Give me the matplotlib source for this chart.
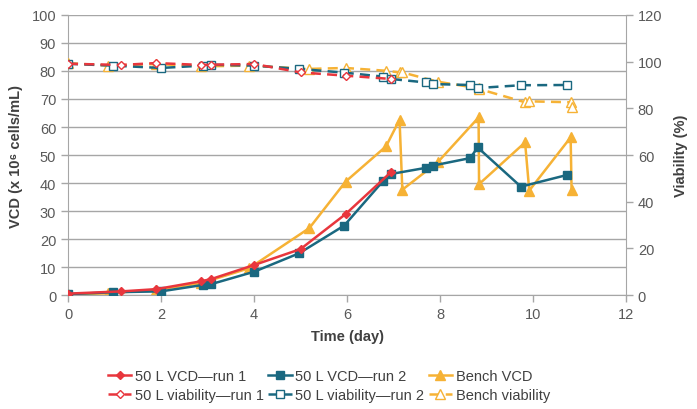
"""VCD and viability vs time, 50 L runs vs bench"""

import matplotlib
matplotlib.use("Agg")
import matplotlib.pyplot as plt

plt.rcParams['font.family'] = ['Liberation Sans', 'DejaVu Sans']

# 50 L run 1
run1_day = [0, 1.15, 1.9, 2.86, 3.08, 4.0, 5.0, 5.97, 6.94]
run1_vcd = [0.5, 1.3, 2.1, 4.9, 5.7, 10.7, 16.4, 28.9, 43.8]
run1_via = [99.1, 98.6, 99.4, 98.6, 98.7, 99.0, 95.4, 94.0, 92.6]

# 50 L run 2
run2_day = [0, 0.97, 2.0, 2.9, 3.08, 4.0, 4.97, 5.94, 6.77, 6.94, 7.69, 7.84, 8.65, 8.81, 9.74, 10.74]
run2_vcd = [0.3, 1.0, 1.3, 3.6, 3.9, 8.3, 14.9, 24.8, 40.6, 43.2, 45.4, 46.2, 48.9, 52.7, 38.7, 42.9]
run2_via = [99.1, 98.3, 97.3, 98.3, 98.7, 98.3, 96.9, 95.3, 93.6, 92.6, 91.1, 90.4, 90.0, 88.7, 89.9, 90.0]

# bench
bench_day = [0, 0.86, 1.9, 2.86, 3.9, 5.19, 5.97, 6.84, 7.13, 7.19, 7.95, 8.83, 8.84, 9.83, 9.92, 10.81, 10.83]
bench_vcd = [0.2, 0.6, 1.9, 4.2, 9.6, 23.9, 40.5, 53.1, 62.6, 37.6, 47.4, 63.4, 39.6, 54.5, 37.3, 56.3, 37.6]
bench_via = [99.4, 98.3, 99.0, 98.0, 98.3, 96.9, 97.3, 96.1, 95.4, 95.4, 91.4, 88.6, 88.3, 82.6, 83.0, 82.6, 80.7]

red = '#E8363D'
teal = '#1A6880'
orange = '#F6B235'
txt = '#595959'

fig = plt.figure(figsize=(6.97, 4.10), dpi=100)
ax = fig.add_axes([0.0976, 0.278, 0.8005, 0.683])
ax2 = ax.twinx()

# VCD lines (left axis)
h1, = ax.plot(run1_day, run1_vcd, color=red, lw=1.8, marker='D', ms=4,
              label='50 L VCD\u2014run 1', zorder=4)
h3, = ax.plot(run2_day, run2_vcd, color=teal, lw=1.8, marker='s', ms=6,
              label='50 L VCD\u2014run 2', zorder=3)
h5, = ax.plot(bench_day, bench_vcd, color=orange, lw=1.8, marker='^', ms=6.5,
              label='Bench VCD', zorder=2)

# viability lines (right axis)
h2, = ax2.plot(run1_day, run1_via, color=red, lw=1.8, ls=(0, (4, 2.5)), marker='D', ms=4,
               mfc='white', mec=red, label='50 L viability\u2014run 1', zorder=4)
h4, = ax2.plot(run2_day, run2_via, color=teal, lw=1.8, ls=(0, (4, 2.5)), marker='s', ms=6,
               mfc='white', mec=teal, label='50 L viability\u2014run 2', zorder=3)
h6, = ax2.plot(bench_day, bench_via, color=orange, lw=1.8, ls=(0, (4, 2.5)), marker='^', ms=6.5,
               mfc='white', mec=orange, label='Bench viability', zorder=2)

ax.set_xlim(0, 12)
ax.set_ylim(0, 100)
ax2.set_ylim(0, 120)
ax.set_xticks(range(0, 13, 2))
ax.set_yticks(range(0, 101, 10))
ax2.set_yticks(range(0, 121, 20))

ax.yaxis.grid(True, color='#A6A6A6', lw=1)
ax.set_axisbelow(True)
for a in (ax, ax2):
    for s in a.spines.values():
        s.set_visible(False)
ax.spines['left'].set_visible(True)
ax.spines['bottom'].set_visible(True)
ax2.spines['right'].set_visible(True)
for s in (ax.spines['left'], ax.spines['bottom'], ax2.spines['right']):
    s.set_color('#A6A6A6')

ax.tick_params(axis='x', colors='#A6A6A6', labelcolor=txt, labelsize=10.5, length=5, width=1)
ax.tick_params(axis='y', colors='#A6A6A6', labelcolor=txt, labelsize=10.5, length=5, width=1)
ax2.tick_params(axis='y', colors='#A6A6A6', labelcolor=txt, labelsize=10.5, length=5, width=1)

ax.set_xlabel('Time (day)', fontsize=10.5, fontweight='bold', color='#404040', labelpad=6)
ax.set_ylabel('VCD (x 10\u2076 cells/mL)', fontsize=10.5, fontweight='bold', color='#404040', labelpad=6)
ax2.set_ylabel('Viability (%)', fontsize=10.5, fontweight='bold', color='#404040', labelpad=8)

fig.legend(handles=[h1, h2, h3, h4, h5, h6], loc='center', bbox_to_anchor=(0.472, 0.058),
           ncol=3, frameon=False, fontsize=10.5, handlelength=1.6, handletextpad=0.25,
           columnspacing=0.3, labelspacing=0.35, labelcolor='#404040')

fig.savefig('out.png', dpi=100)
